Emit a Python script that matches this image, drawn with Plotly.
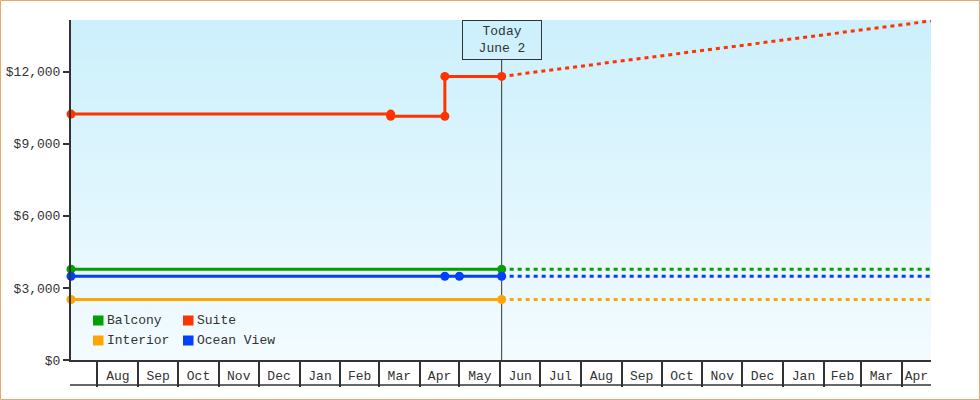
"""Cabin price history with forecast."""

import pandas as pd
import plotly.graph_objects as go

# ---- data ----
START = "2023-07-12"
TODAY = "2024-06-02"
END = "2025-04-23"

month_labels = ["Aug", "Sep", "Oct", "Nov", "Dec", "Jan", "Feb", "Mar", "Apr", "May",
                "Jun", "Jul", "Aug", "Sep", "Oct", "Nov", "Dec", "Jan", "Feb", "Mar", "Apr"]
first_month = "2023-08-01"

suite_dates = ["2023-07-12", "2024-03-10", "2024-03-10", "2024-04-20", "2024-04-20", "2024-06-02"]
suite_prices = [10240, 10240, 10150, 10150, 11810, 11810]

ocean_dates = ["2023-07-12", "2024-04-20", "2024-05-01", "2024-06-02"]
ocean_prices = [3490, 3490, 3490, 3490]

balcony_dates = ["2023-07-12", "2024-06-02"]
balcony_prices = [3780, 3780]

interior_dates = ["2023-07-12", "2024-06-02"]
interior_prices = [2520, 2520]

forecast_dates = ["2024-06-02", "2025-04-23"]
forecast_suite = [11810, 14120]
forecast_ocean = [3490, 3490]
forecast_balcony = [3780, 3780]
forecast_interior = [2520, 2520]

y_ticks = [0, 3000, 6000, 9000, 12000]
y_tick_labels = ["$0", "$3,000", "$6,000", "$9,000", "$12,000"]

# ---- style ----
W, H = 980, 400
L, R, T, B = 71, 49, 20, 40
PW, PH = W - L - R, H - T - B
FONT = "Liberation Mono"
INK = "#333333"
COLORS = {"Balcony": "#00a000", "Suite": "#ff3300", "Interior": "#ffa500", "Ocean View": "#0040ff"}


def px_x(px):
    return (px - L) / PW


def px_y(py):
    return (T + PH - py) / PH


fig = go.Figure()

series = [
    ("Balcony", balcony_dates, balcony_prices, forecast_balcony),
    ("Ocean View", ocean_dates, ocean_prices, forecast_ocean),
    ("Interior", interior_dates, interior_prices, forecast_interior),
    ("Suite", suite_dates, suite_prices, forecast_suite),
]
for name, d, v, fc in series:
    fig.add_trace(go.Scatter(
        x=forecast_dates, y=fc, mode="lines", showlegend=False, hoverinfo="skip",
        line=dict(color=COLORS[name], width=3, dash="4px,4px"),
    ))
    fig.add_trace(go.Scatter(
        x=d, y=v, mode="lines+markers", name=name, showlegend=False, cliponaxis=False,
        line=dict(color=COLORS[name], width=3),
        marker=dict(color=COLORS[name], size=9, symbol="circle"),
    ))

# month boxes: boundaries as minor ticks, labels centred in visible part
starts = pd.date_range(first_month, periods=len(month_labels), freq="MS")
hi = pd.Timestamp(END)
label_pos = []
for s in starts:
    e = min(s + pd.offsets.MonthBegin(1), hi)
    label_pos.append(s + (e - s) / 2)

shapes = []
# vertical gradient background
top_rgb, bot_rgb = (204, 240, 252), (243, 251, 255)
n = 34
for i in range(n):
    f = i / (n - 1)
    c = tuple(round(a + (b - a) * f) for a, b in zip(top_rgb, bot_rgb))
    shapes.append(dict(type="rect", xref="paper", yref="paper", x0=0, x1=1,
                       y0=1 - (i + 1) / n, y1=1 - i / n, layer="below",
                       fillcolor="rgb(%d,%d,%d)" % c, line=dict(width=0)))
# today line
shapes.append(dict(type="line", xref="x", yref="paper", x0=TODAY, x1=TODAY,
                   y0=0, y1=1 - 40 / PH, layer="below", line=dict(color=INK, width=1)))
# bottom of month boxes
shapes.append(dict(type="line", xref="paper", yref="paper", x0=px_x(70), x1=1,
                   y0=px_y(385), y1=px_y(385), line=dict(color=INK, width=1.5)))
# outer border
shapes.append(dict(type="rect", xref="paper", yref="paper", x0=px_x(0.5), x1=px_x(979.5),
                   y0=px_y(399.5), y1=px_y(0.5), line=dict(color="#e8a86a", width=1)))

annotations = [dict(
    x=TODAY, xref="x", y=1, yref="paper", xanchor="center", yanchor="top",
    text="Today<br>June 2", showarrow=False, width=78, height=38, borderpad=0,
    bordercolor=INK, borderwidth=1, font=dict(family=FONT, size=13, color=INK),
)]

# legend drawn as squares + labels
legend_items = [("Balcony", 93, 320.5), ("Suite", 183, 320.5),
                ("Interior", 93, 340.5), ("Ocean View", 183, 340.5)]
for name, lx, ly in legend_items:
    shapes.append(dict(type="rect", xref="paper", yref="paper",
                       x0=px_x(lx), x1=px_x(lx + 10.5), y0=px_y(ly + 5), y1=px_y(ly - 5),
                       fillcolor=COLORS[name], line=dict(width=0)))
    annotations.append(dict(x=px_x(lx + 12), y=px_y(ly), xref="paper", yref="paper",
                            xanchor="left", yanchor="middle", text=name, showarrow=False,
                            font=dict(family=FONT, size=13, color=INK)))

fig.update_layout(
    width=W, height=H,
    margin=dict(l=L, r=R, t=T, b=B, autoexpand=False),
    paper_bgcolor="white", plot_bgcolor="white",
    font=dict(family=FONT, size=13, color=INK),
    showlegend=False,
    shapes=shapes, annotations=annotations,
    xaxis=dict(
        type="date", range=[START, END], showgrid=False, zeroline=False, automargin=False,
        showline=True, linewidth=2, linecolor=INK,
        tickmode="array", tickvals=label_pos, ticktext=month_labels,
        ticks="", ticklabelstandoff=2,
        minor=dict(tickmode="array", tickvals=list(starts), ticks="outside",
                   ticklen=25, tickwidth=1.5, tickcolor=INK, showgrid=False),
    ),
    yaxis=dict(
        range=[0, 14160], showgrid=False, zeroline=False, automargin=False,
        showline=True, linewidth=2, linecolor=INK,
        tickmode="array", tickvals=y_ticks, ticktext=y_tick_labels,
        ticks="outside", ticklen=6, tickwidth=2, tickcolor=INK,
    ),
)

fig.write_html("out.html", config={"displayModeBar": False},
               post_script="document.body.style.margin = '0';")
